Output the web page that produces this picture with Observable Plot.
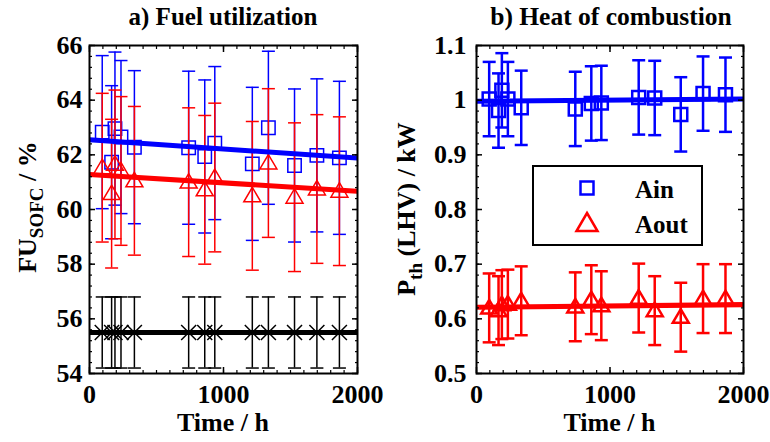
<!DOCTYPE html>
<html><head><meta charset="utf-8">
<script src="https://cdn.jsdelivr.net/npm/d3@7"></script>
<script src="https://cdn.jsdelivr.net/npm/@observablehq/plot@0.6"></script>
<style>
body{margin:0;background:#fff}
#chart{position:relative;width:770px;height:442px;background:#fff}
#chart svg{position:absolute;top:0}
</style></head><body><div id="chart"></div>
<script>
// ---- data ----
const hours   = [95, 165, 190, 235, 335, 740, 860, 935, 1215, 1335, 1530, 1697, 1865];
const fuAin   = [62.83, 61.73, 62.96, 62.65, 62.28, 62.26, 61.94, 62.43, 61.67, 62.99, 61.61, 61.98, 61.89];
const fuAout  = [61.53, 60.58, 61.65, 61.41, 61.05, 61.0, 60.72, 61.17, 60.5, 61.7, 60.45, 60.75, 60.67];
const fuRef   = [55.5, 55.5, 55.5, 55.5, 55.5, 55.5, 55.5, 55.5, 55.5, 55.5, 55.5, 55.5, 55.5];
const fuAinErr = 2.8, fuAoutErr = 2.72, fuRefErr = 1.3;
const pAin    = [1.002, 0.981, 1.018, 1.002, 0.986, 0.984, 0.994, 0.995, 1.005, 1.004, 0.974, 1.012, 1.010];
const pAout   = [0.620, 0.615, 0.626, 0.627, 0.633, 0.622, 0.635, 0.624, 0.638, 0.615, 0.603, 0.637, 0.637];
const pAinErr = 0.068, pAoutErr = 0.063;
const fitHours = [0, 2000];
const fitFuAin = [62.55, 61.88];
const fitFuAout = [61.28, 60.67];
const fitFuRef = [55.5, 55.5];
const fitPAin = [0.998, 1.002];
const fitPAout = [0.621, 0.626];
const xTicks = [0, 1000, 2000];
const xMinor = d3.range(0, 2001, 100);
const yTicksL = [54, 56, 58, 60, 62, 64, 66];
const yMinorL = d3.range(0, 31).map(i => 54 + i * 0.4);
const yTicksR = [0.5, 0.6, 0.7, 0.8, 0.9, 1, 1.1];
const yMinorR = d3.range(0, 31).map(i => +(0.5 + i * 0.02).toFixed(2));

const BLUE = "#0000ff", RED = "#ff0000", BLACK = "#000000";
const FONT = "'Liberation Serif','Times New Roman',serif";

// ---- symbols ----
const capSym = {draw(c, s) { const r = Math.sqrt(s / Math.PI); c.moveTo(-r, 0); c.lineTo(r, 0); }};
const squareSym = {draw(c, s) { const r = Math.sqrt(s / Math.PI); c.moveTo(-r, -r); c.lineTo(r, -r); c.lineTo(r, r); c.lineTo(-r, r); c.closePath(); }};
const triSym = {draw(c, s) { const r = Math.sqrt(s / Math.PI); c.moveTo(0, -r); c.lineTo(r, 0.7 * r); c.lineTo(-r, 0.7 * r); c.closePath(); }};
const crossSym = {draw(c, s) { const r = Math.sqrt(s / Math.PI); c.moveTo(-r, -r); c.lineTo(r, r); c.moveTo(r, -r); c.lineTo(-r, r); }};

function rowsOf(vals) { return hours.map((t, i) => ({t, v: vals[i]})); }
function fitOf(vals) { return fitHours.map((t, i) => ({t, v: vals[i]})); }

function series(vals, err, color, sym, symR, sw, capR) {
  const rows = rowsOf(vals);
  return [
    Plot.ruleX(rows, {x: "t", y1: d => d.v - err, y2: d => d.v + err, stroke: color, strokeWidth: sw}),
    Plot.dot(rows, {x: "t", y: d => d.v - err, symbol: capSym, r: capR, stroke: color, fill: "none", strokeWidth: sw}),
    Plot.dot(rows, {x: "t", y: d => d.v + err, symbol: capSym, r: capR, stroke: color, fill: "none", strokeWidth: sw}),
    Plot.dot(rows, {x: "t", y: "v", symbol: sym, r: symR, stroke: color, fill: "none", strokeWidth: sw})
  ];
}
function fitLine(fitVals, color) {
  return Plot.line(fitOf(fitVals), {x: "t", y: "v", stroke: color, strokeWidth: 5, clip: true});
}
function axes(yTicks, yMinor, yPad) {
  const none = () => "";
  const out = [
    Plot.axisX({ticks: xTicks, anchor: "bottom", tickSize: 0, tickPadding: 11, tickFormat: d => String(d), label: null}),
    Plot.axisY({ticks: yTicks, anchor: "left", tickSize: 0, tickPadding: yPad, tickFormat: d => String(d), label: null})
  ];
  for (const a of ["bottom", "top"]) {
    out.push(Plot.axisX({ticks: xTicks, anchor: a, tickSize: -6, tickFormat: none, label: null, strokeWidth: 1.5}));
    out.push(Plot.axisX({ticks: xMinor, anchor: a, tickSize: -3, tickFormat: none, label: null, strokeWidth: 1.2}));
  }
  for (const a of ["left", "right"]) {
    out.push(Plot.axisY({ticks: yTicks, anchor: a, tickSize: -6, tickFormat: none, label: null, strokeWidth: 1.5}));
    out.push(Plot.axisY({ticks: yMinor, anchor: a, tickSize: -3, tickFormat: none, label: null, strokeWidth: 1.2}));
  }
  return out;
}
const style = `font-family:${FONT};font-weight:bold;font-size:26px;color:#000;background:transparent;overflow:visible;`;

// ---- left panel ----
const left = Plot.plot({
  width: 385, height: 442,
  marginLeft: 89, marginRight: 28, marginTop: 45, marginBottom: 69,
  x: {domain: [0, 2000], label: null},
  y: {domain: [54, 66], label: null},
  style,
  marks: [
    ...series(fuRef, fuRefErr, BLACK, crossSym, 7.5, 1.5, 6.5),
    ...series(fuAin, fuAinErr, BLUE, squareSym, 6.7, 1.5, 6.5),
    ...series(fuAout, fuAoutErr, RED, triSym, 8.5, 1.5, 6.5),
    fitLine(fitFuRef, BLACK),
    fitLine(fitFuAin, BLUE),
    fitLine(fitFuAout, RED),
    ...axes(yTicksL, yMinorL, 7),
    Plot.frame({stroke: BLACK, strokeWidth: 2})
  ]
});

// ---- right panel ----
const right = Plot.plot({
  width: 385, height: 442,
  marginLeft: 91, marginRight: 27, marginTop: 45, marginBottom: 69,
  x: {domain: [0, 2000], label: null},
  y: {domain: [0.5, 1.1], label: null},
  style,
  marks: [
    ...series(pAin, pAinErr, BLUE, squareSym, 6.5, 2.5, 6.5),
    ...series(pAout, pAoutErr, RED, triSym, 8, 2.5, 6.5),
    fitLine(fitPAin, BLUE),
    fitLine(fitPAout, RED),
    ...axes(yTicksR, yMinorR, 10),
    Plot.frame({stroke: BLACK, strokeWidth: 2})
  ]
});

const chart = document.getElementById("chart");
left.style.left = "0px";
right.style.left = "385px";
chart.appendChild(left);
chart.appendChild(right);

function txt(svg, x, y, s, size, anchor) {
  return d3.select(svg).append("text").attr("x", x).attr("y", y).attr("text-anchor", anchor || "middle")
    .attr("font-size", size).attr("font-weight", "bold").attr("font-family", FONT).attr("fill", "#000").text(s);
}
// titles
txt(left, 223, 25, "a) Fuel utilization", 25);
txt(right, 226, 25, "b) Heat of combustion", 25.5);
// x labels
txt(left, 223, 431, "Time / h", 26);
txt(right, 224.5, 431, "Time / h", 26);
// y labels with subscripts
function ylabel(svg, x, y, main, sub, rest) {
  const t = d3.select(svg).append("text").attr("transform", `translate(${x},${y}) rotate(-90)`)
    .attr("text-anchor", "middle").attr("font-size", 26).attr("font-weight", "bold").attr("font-family", FONT).attr("fill", "#000");
  t.append("tspan").text(main);
  t.append("tspan").attr("dy", 7).attr("font-size", 19).text(sub);
  t.append("tspan").attr("dy", -7).text(rest);
}
ylabel(left, 36, 207, "FU", "SOFC", " / %");
ylabel(right, 30, 209, "P", "th", " (LHV) / kW");

// legend (right panel)
const lg = d3.select(right).append("g");
lg.append("rect").attr("x", 148).attr("y", 166).attr("width", 169).attr("height", 79)
  .attr("fill", "#fff").attr("stroke", BLACK).attr("stroke-width", 2);
lg.append("rect").attr("x", 195.5).attr("y", 181.5).attr("width", 13).attr("height", 13)
  .attr("fill", "none").attr("stroke", BLUE).attr("stroke-width", 2.5);
lg.append("path").attr("d", "M202,213 L212.5,231 L191.5,231 Z")
  .attr("fill", "none").attr("stroke", RED).attr("stroke-width", 2.5);
txt(right, 250, 198, "Ain", 25, "start");
txt(right, 250, 233, "Aout", 25, "start");
</script></body></html>
